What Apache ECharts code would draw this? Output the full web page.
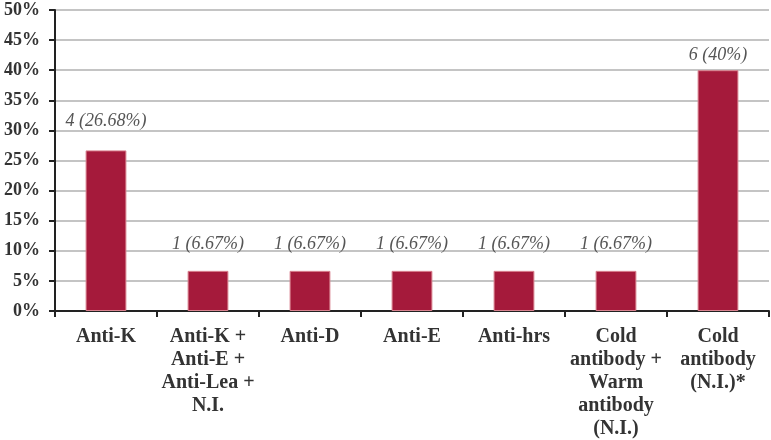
<!DOCTYPE html>
<html><head><meta charset="utf-8">
<script src="https://cdn.jsdelivr.net/npm/echarts@6/dist/echarts.min.js"></script>
<style>html,body{margin:0;padding:0;background:#fff}#c{width:771px;height:440px}</style>
</head><body><div id="c"></div>
<script>
const categories = ["Anti-K", "Anti-K +\nAnti-E +\nAnti-Lea +\nN.I.", "Anti-D", "Anti-E", "Anti-hrs", "Cold\nantibody +\nWarm\nantibody\n(N.I.)", "Cold\nantibody\n(N.I.)*"];
const percentages = [26.68, 6.67, 6.67, 6.67, 6.67, 6.67, 40];
const counts = [4, 1, 1, 1, 1, 1, 6];
const pctText = ["26.68%", "6.67%", "6.67%", "6.67%", "6.67%", "6.67%", "40%"];
const yTicks = [0, 5, 10, 15, 20, 25, 30, 35, 40, 45, 50];

// label gaps above bars as placed in the source figure (style only)
const labelGap = [20, 18, 18, 18, 18, 18, 6];

const chart = echarts.init(document.getElementById('c'));
chart.setOption({
  animation: false,
  grid: {left: 55, right: 2, top: 10, bottom: 127, containLabel: false},
  xAxis: {
    type: 'category', data: categories,
    axisLine: {lineStyle: {color: '#222', width: 2}},
    axisTick: {show: true, length: 6, lineStyle: {color: '#222', width: 2}},
    axisLabel: {interval: 0, margin: 14, color: '#333', fontFamily: 'Liberation Serif', fontWeight: 'bold', fontSize: 20, lineHeight: 23}
  },
  yAxis: {
    type: 'value', min: yTicks[0], max: yTicks[yTicks.length-1], interval: 5,
    axisLine: {show: true, lineStyle: {color: '#222', width: 2}},
    axisTick: {show: true, length: 6, lineStyle: {color: '#222', width: 2}},
    splitLine: {lineStyle: {color: '#c4c4c4', width: 2}},
    axisLabel: {margin: 15, color: '#333', fontFamily: 'Liberation Serif', fontWeight: 'bold', fontSize: 18, formatter: v => v + '%'}
  },
  series: [{
    type: 'bar',
    data: percentages.map((v, i) => ({value: v, label: {distance: labelGap[i]}})),
    barWidth: '40%',
    itemStyle: {color: '#a51a3b', borderColor: '#d9828f', borderWidth: 1},
    label: {
      show: true, position: 'top',
      color: '#555', fontFamily: 'Liberation Serif', fontStyle: 'italic', fontSize: 18,
      formatter: p => counts[p.dataIndex] + ' (' + pctText[p.dataIndex] + ')'
    }
  }]
});
</script></body></html>
